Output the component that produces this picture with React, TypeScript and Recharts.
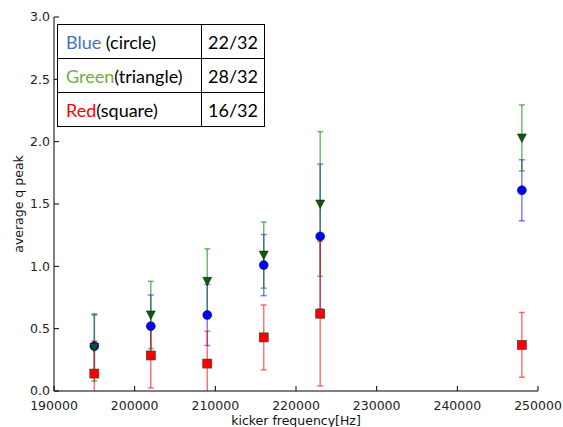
import React from 'react';
import { ScatterChart, Scatter, XAxis, YAxis, ErrorBar } from 'recharts';

const freqs = [195000, 202000, 209000, 216000, 223000, 248000];
const blueVals = [0.36, 0.52, 0.61, 1.01, 1.24, 1.61];
const blueErr = [0.25, 0.25, 0.245, 0.245, 0.58, 0.245];
const greenVals = [0.35, 0.61, 0.88, 1.09, 1.5, 2.03];
const greenErr = [0.27, 0.27, 0.26, 0.265, 0.58, 0.265];
const redVals = [0.14, 0.285, 0.22, 0.43, 0.62, 0.37];
const redErr = [0.26, 0.26, 0.26, 0.26, 0.58, 0.26];

const xTicks = [190000, 200000, 210000, 220000, 230000, 240000, 250000];
const yTicks = [0, 0.5, 1, 1.5, 2, 2.5, 3];

const tableRows = [
  { name: 'Blue', shape: ' (circle)', color: '#4472C4', count: '22/32' },
  { name: 'Green', shape: '(triangle)', color: '#70AD47', count: '28/32' },
  { name: 'Red', shape: '(square)', color: '#FF0000', count: '16/32' },
];

const toRows = (vals: number[], errs: number[]) =>
  freqs.map((f, i) => ({ x: f, y: vals[i], err: errs[i] }));

const blueData = toRows(blueVals, blueErr);
const greenData = toRows(greenVals, greenErr);
const redData = toRows(redVals, redErr);

const tickFont = { fontFamily: 'DejaVu Sans', fontSize: 12.5, fill: '#222' };
const labelFont = { fontFamily: 'DejaVu Sans', fontSize: 12.5, fill: '#111' };

const Circle = (p: any) => (
  <circle cx={p.cx} cy={p.cy} r={4.5} fill="#0000ff" stroke="#111" strokeWidth={0.5} />
);
const TriDown = (p: any) => (
  <polygon
    points={`${p.cx - 4.5},${p.cy - 4} ${p.cx + 4.5},${p.cy - 4} ${p.cx},${p.cy + 4.5}`}
    fill="#0a5c0a"
    stroke="#111"
    strokeWidth={0.5}
  />
);
const Square = (p: any) => (
  <rect x={p.cx - 4.5} y={p.cy - 4.5} width={9} height={9} fill="#ff0000" stroke="#333" strokeWidth={0.6} />
);

export default function App() {
  return (
    <div style={{ position: 'absolute', left: 0, top: 0, width: 563, height: 427, background: '#fff' }}>
      {/* error bars are not clipped by recharts, so clip them to the plot box */}
      <style>{'.recharts-errorBars{clip-path:url(#plotClip);}'}</style>
      <svg width={0} height={0} style={{ position: 'absolute' }}>
        <defs>
          <clipPath id="plotClip" clipPathUnits="userSpaceOnUse">
            <rect x={54} y={17} width={484} height={374} />
          </clipPath>
        </defs>
      </svg>
      <ScatterChart width={563} height={427} margin={{ top: 17, right: 25, bottom: 0, left: 0 }}>
        <XAxis
          xAxisId="b"
          dataKey="x"
          type="number"
          domain={[190000, 250000]}
          ticks={xTicks}
          allowDataOverflow
          height={36}
          stroke="#000"
          tickSize={-5}
          tickMargin={15}
          tick={tickFont}
          label={{ value: 'kicker frequency[Hz]', position: 'insideBottom', offset: 2, style: labelFont }}
        />
        <XAxis
          xAxisId="t"
          orientation="top"
          type="number"
          domain={[190000, 250000]}
          ticks={xTicks}
          allowDataOverflow
          height={0}
          stroke="#000"
          tickSize={-5}
          tickFormatter={() => ''}
        />
        <YAxis
          yAxisId="l"
          dataKey="y"
          type="number"
          domain={[0, 3]}
          ticks={yTicks}
          allowDataOverflow
          width={54}
          stroke="#000"
          tickSize={-5}
          tickMargin={9}
          tick={tickFont}
          tickFormatter={(v: number) => v.toFixed(1)}
          label={{ value: 'average q peak', angle: -90, position: 'center', dx: -8, style: labelFont }}
        />
        <YAxis
          yAxisId="r"
          orientation="right"
          type="number"
          domain={[0, 3]}
          ticks={yTicks}
          allowDataOverflow
          width={0}
          stroke="#000"
          tickSize={-5}
          tickFormatter={() => ''}
        />
        <Scatter data={blueData} xAxisId="b" yAxisId="l" shape={Circle} isAnimationActive={false}>
          <ErrorBar dataKey="err" direction="y" width={3} stroke="rgba(0,0,255,0.5)" strokeWidth={1.5} />
        </Scatter>
        <Scatter data={greenData} xAxisId="b" yAxisId="l" shape={TriDown} isAnimationActive={false}>
          <ErrorBar dataKey="err" direction="y" width={3} stroke="rgba(0,128,0,0.55)" strokeWidth={1.5} />
        </Scatter>
        <Scatter data={redData} xAxisId="b" yAxisId="l" shape={Square} isAnimationActive={false}>
          <ErrorBar dataKey="err" direction="y" width={3} stroke="rgba(255,0,0,0.55)" strokeWidth={1.5} />
        </Scatter>
      </ScatterChart>
      <table
        style={{
          position: 'absolute',
          left: 57,
          top: 24,
          width: 208,
          height: 103,
          borderCollapse: 'collapse',
          fontFamily: 'Lato',
          fontSize: 18,
          background: '#fff',
        }}
      >
        <tbody>
          {tableRows.map((r) => (
            <tr key={r.name}>
              <td style={{ border: '1.5px solid #000', width: 134, paddingLeft: 8, paddingTop: 0, paddingBottom: 0 }}>
                <span style={{ color: r.color }}>{r.name}</span>
                <span style={{ color: '#000' }}>{r.shape}</span>
              </td>
              <td style={{ border: '1.5px solid #000', textAlign: 'center', padding: 0 }}>{r.count}</td>
            </tr>
          ))}
        </tbody>
      </table>
    </div>
  );
}
